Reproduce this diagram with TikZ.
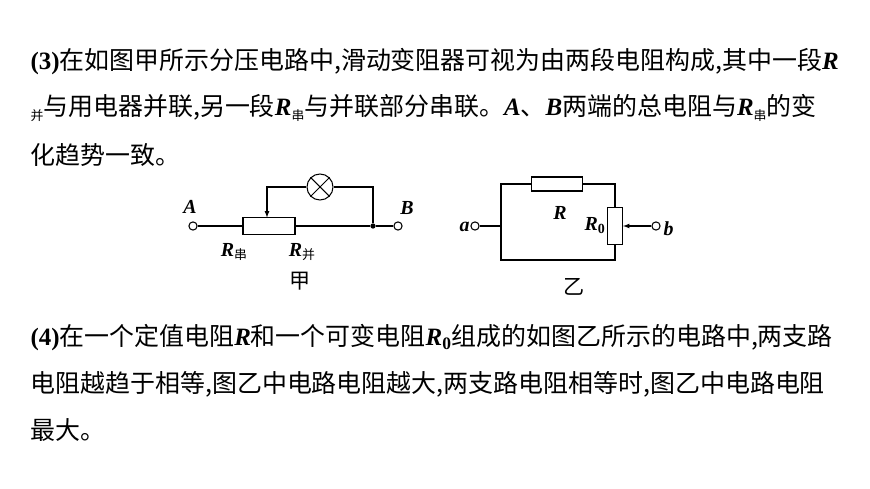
\documentclass[tikz,border=0pt]{standalone}
\usepackage{fontspec}
\setmainfont{Liberation Serif}
\newfontfamily\cjk{Noto Sans CJK SC}
\usetikzlibrary{arrows}
\newcommand{\bR}{{\rmfamily\bfseries\itshape R}}
\newcommand{\bI}[1]{{\rmfamily\bfseries\itshape #1}}
\newcommand{\bN}[1]{{\rmfamily\bfseries #1}}
\newcommand{\sub}[1]{\raisebox{-0.35ex}{\fontsize{11}{11}\selectfont\cjk #1}}
\tikzset{txt/.style={anchor=west,inner sep=0pt,font=\fontsize{21.3}{24}\selectfont\cjk},
  lbl/.style={inner sep=0pt,font=\fontsize{17}{20}\selectfont},
  term/.style={circle,draw,fill=white,inner sep=0pt,minimum size=7pt}}
\begin{document}
\begin{tikzpicture}[x=0.03cm,y=-0.03cm,line width=0.9pt]
        \useasboundingbox (0,0) rectangle (870,489);
        \node[txt](t1)at(30,62){\bN{(3)}在如图甲所示分压电路中,滑动变阻器可视为由两段电阻构成,其中一段\bR{}};
        \node[txt](t2)at(30,108){\sub{并}与用电器并联,另一段\bR{}\sub{串}与并联部分串联。\bI{A}、\bI{B}两端的总电阻与\bR{}\sub{串}的变};
        \node[txt](t3)at(30,155){化趋势一致。};
        \node[txt](t4)at(30,338){\bN{(4)}在一个定值电阻\bR{}和一个可变电阻\bR{}$_{\mathbf 0}$组成的如图乙所示的电路中,两支路};
        \node[txt](t5)at(30,384){电阻越趋于相等,图乙中电路电阻越大,两支路电阻相等时,图乙中电路电阻};
        \node[txt](t6)at(30,430){最大。};
        % circuit jia
        \node[term](A)at(193,226){};
        \node[term](B)at(398,226){};
        \node[draw,inner sep=0pt,minimum width=1.56cm,minimum height=0.5cm](rj)at(269,226){};
        \node[circle,fill,inner sep=1.6pt](d)at(373,226){};
        \node[circle,draw,minimum size=0.78cm,inner sep=0pt](L)at(320,187){};
        \draw[-latex] (L.west)--(267,187)--(267,217.5);
        \draw (A)--(rj.west) (rj.east)--(d)--(B);
        \draw (L.east)--(373,187)--(d);
        \draw (L.north west)--(L.south east) (L.north east)--(L.south west);
        \node[lbl](lA)at(190,207){\bI{A}};
        \node[lbl](lB)at(407,208){\bI{B}};
        \node[lbl](ls)at(234,252){\bR{}\sub{串}};
        \node[lbl](lp)at(302,252){\bR{}\sub{并}};
        \node[lbl,font=\fontsize{18}{20}\selectfont\cjk](jia)at(300,281){甲};
        % circuit yi
        \node[term](a)at(475,226){};
        \node[term](b)at(656,226){};
        \node[draw,inner sep=0pt,minimum width=1.53cm,minimum height=0.42cm](R)at(557,184){};
        \node[draw,inner sep=0pt,minimum width=0.45cm,minimum height=1.11cm](R0)at(615,226){};
        \draw (a)--(501,226);
        \draw (R.west)--(501,184)--(501,260)--(615,260)--(R0.south);
        \draw (R.east)--(615,184)--(R0.north);
        \draw[-latex] (b)--(R0.east);
        \node[lbl,anchor=east](la)at(470,227){\bI{a}};
        \node[lbl,anchor=west](lb)at(663,229){\bI{b}};
        \node[lbl](lR)at(560,213){\bR{}};
        \node[lbl](lR0)at(595,226){\bR{}$_{\mathbf 0}$};
        \node[lbl,font=\fontsize{18}{20}\selectfont\cjk](yi)at(574,287){乙};
    \end{tikzpicture}
\end{document}
